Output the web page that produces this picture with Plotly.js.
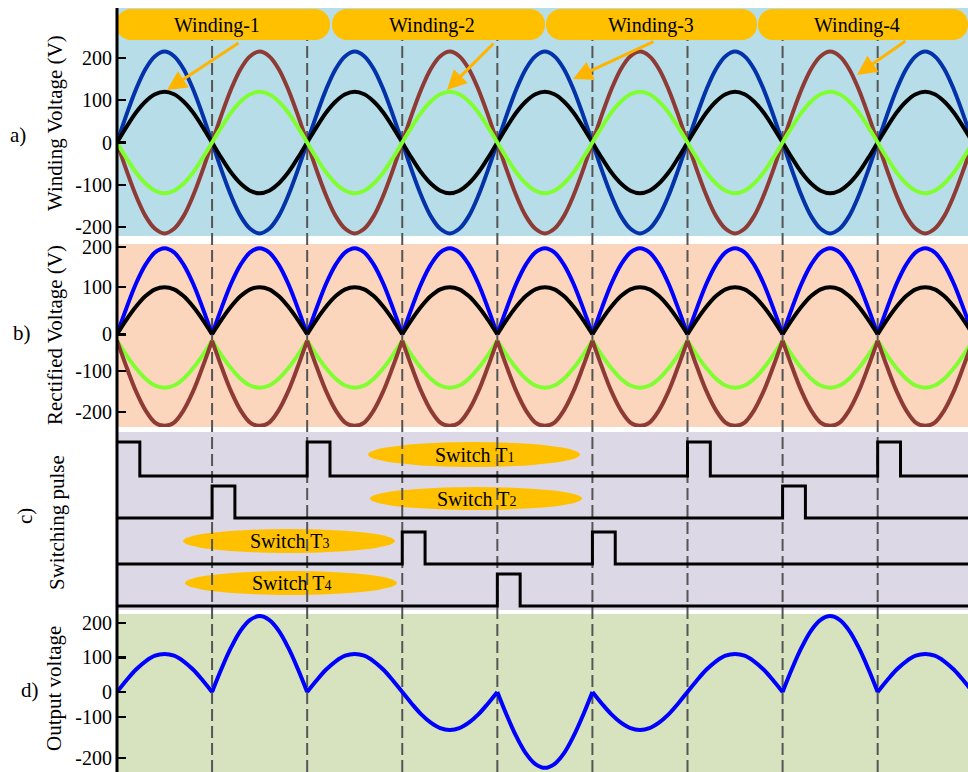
<!DOCTYPE html>
<html><head><meta charset="utf-8">
<script src="https://cdn.plot.ly/plotly-3.0.1.min.js"></script>
<style>html,body{margin:0;padding:0;background:#fff}#chart{width:968px;height:772px}</style>
</head><body><div id="chart"></div>
<script>
// time axis in half-periods
const time = [
0,0.1,0.2,0.3,0.4,0.5,0.6,0.7,0.8,0.9,
1,1.1,1.2,1.3,1.4,1.5,1.6,1.7,1.8,1.9,
2,2.1,2.2,2.3,2.4,2.5,2.6,2.7,2.8,2.9,
3,3.1,3.2,3.3,3.4,3.5,3.6,3.7,3.8,3.9,
4,4.1,4.2,4.3,4.4,4.5,4.6,4.7,4.8,4.9,
5,5.1,5.2,5.3,5.4,5.5,5.6,5.7,5.8,5.9,
6,6.1,6.2,6.3,6.4,6.5,6.6,6.7,6.8,6.9,
7,7.1,7.2,7.3,7.4,7.5,7.6,7.7,7.8,7.9,
8,8.1,8.2,8.3,8.4,8.5,8.6,8.7,8.8,8.9,
9];

// a) winding voltages
const winding1 = [ // black
0,37,71,97,114,120,114,97,71,37,
0,-37,-71,-97,-114,-120,-114,-97,-71,-37,
0,37,71,97,114,120,114,97,71,37,
0,-37,-71,-97,-114,-120,-114,-97,-71,-37,
0,37,71,97,114,120,114,97,71,37,
0,-37,-71,-97,-114,-120,-114,-97,-71,-37,
0,37,71,97,114,120,114,97,71,37,
0,-37,-71,-97,-114,-120,-114,-97,-71,-37,
0,37,71,97,114,120,114,97,71,37,
0];
const winding2 = [ // green
0,-37,-71,-97,-114,-120,-114,-97,-71,-37,
0,37,71,97,114,120,114,97,71,37,
0,-37,-71,-97,-114,-120,-114,-97,-71,-37,
0,37,71,97,114,120,114,97,71,37,
0,-37,-71,-97,-114,-120,-114,-97,-71,-37,
0,37,71,97,114,120,114,97,71,37,
0,-37,-71,-97,-114,-120,-114,-97,-71,-37,
0,37,71,97,114,120,114,97,71,37,
0,-37,-71,-97,-114,-120,-114,-97,-71,-37,
0];
const winding3 = [ // blue
0,66,126,174,204,215,204,174,126,66,
0,-66,-126,-174,-204,-215,-204,-174,-126,-66,
0,66,126,174,204,215,204,174,126,66,
0,-66,-126,-174,-204,-215,-204,-174,-126,-66,
0,66,126,174,204,215,204,174,126,66,
0,-66,-126,-174,-204,-215,-204,-174,-126,-66,
0,66,126,174,204,215,204,174,126,66,
0,-66,-126,-174,-204,-215,-204,-174,-126,-66,
0,66,126,174,204,215,204,174,126,66,
0];
const winding4 = [ // brown
0,-66,-126,-174,-204,-215,-204,-174,-126,-66,
0,66,126,174,204,215,204,174,126,66,
0,-66,-126,-174,-204,-215,-204,-174,-126,-66,
0,66,126,174,204,215,204,174,126,66,
0,-66,-126,-174,-204,-215,-204,-174,-126,-66,
0,66,126,174,204,215,204,174,126,66,
0,-66,-126,-174,-204,-215,-204,-174,-126,-66,
0,66,126,174,204,215,204,174,126,66,
0,-66,-126,-174,-204,-215,-204,-174,-126,-66,
0];

// b) rectified voltages
const rectBlue = [
0,63,121,166,195,205,195,166,121,63,
0,63,121,166,195,205,195,166,121,63,
0,63,121,166,195,205,195,166,121,63,
0,63,121,166,195,205,195,166,121,63,
0,63,121,166,195,205,195,166,121,63,
0,63,121,166,195,205,195,166,121,63,
0,63,121,166,195,205,195,166,121,63,
0,63,121,166,195,205,195,166,121,63,
0,63,121,166,195,205,195,166,121,63,
0];
const rectBlack = [
0,35,66,91,107,112,107,91,66,35,
0,35,66,91,107,112,107,91,66,35,
0,35,66,91,107,112,107,91,66,35,
0,35,66,91,107,112,107,91,66,35,
0,35,66,91,107,112,107,91,66,35,
0,35,66,91,107,112,107,91,66,35,
0,35,66,91,107,112,107,91,66,35,
0,35,66,91,107,112,107,91,66,35,
0,35,66,91,107,112,107,91,66,35,
0];
const rectGreen = [
-15,-50,-81,-106,-122,-127,-122,-106,-81,-50,
-15,-50,-81,-106,-122,-127,-122,-106,-81,-50,
-15,-50,-81,-106,-122,-127,-122,-106,-81,-50,
-15,-50,-81,-106,-122,-127,-122,-106,-81,-50,
-15,-50,-81,-106,-122,-127,-122,-106,-81,-50,
-15,-50,-81,-106,-122,-127,-122,-106,-81,-50,
-15,-50,-81,-106,-122,-127,-122,-106,-81,-50,
-15,-50,-81,-106,-122,-127,-122,-106,-81,-50,
-15,-50,-81,-106,-122,-127,-122,-106,-81,-50,
-15];
const rectBrown = [
-15,-78,-136,-181,-210,-218,-210,-181,-136,-78,
-15,-78,-136,-181,-210,-218,-210,-181,-136,-78,
-15,-78,-136,-181,-210,-218,-210,-181,-136,-78,
-15,-78,-136,-181,-210,-218,-210,-181,-136,-78,
-15,-78,-136,-181,-210,-218,-210,-181,-136,-78,
-15,-78,-136,-181,-210,-218,-210,-181,-136,-78,
-15,-78,-136,-181,-210,-218,-210,-181,-136,-78,
-15,-78,-136,-181,-210,-218,-210,-181,-136,-78,
-15,-78,-136,-181,-210,-218,-210,-181,-136,-78,
-15];

// c) switching pulses (step edges in half-periods, level 0/1)
const pulseT1x = [0, 0.24, 2, 2.24, 6, 6.24, 8, 8.24, 8.95];
const pulseT1y = [1, 0, 1, 0, 1, 0, 1, 0, 0];
const pulseT2x = [0, 1, 1.24, 7, 7.24, 8.95];
const pulseT2y = [0, 1, 0, 1, 0, 0];
const pulseT3x = [0, 3, 3.24, 5, 5.24, 8.95];
const pulseT3y = [0, 1, 0, 1, 0, 0];
const pulseT4x = [0, 4, 4.24, 8.95];
const pulseT4y = [0, 1, 0, 0];

// d) output voltage
const outputV = [
0,34,65,89,105,110,105,89,65,34,
0,68,129,178,209,220,209,178,129,68,
0,34,65,89,105,110,105,89,65,34,
0,-34,-65,-89,-105,-110,-105,-89,-65,-34,
0,-68,-129,-178,-209,-220,-209,-178,-129,-68,
0,-34,-65,-89,-105,-110,-105,-89,-65,-34,
0,34,65,89,105,110,105,89,65,34,
0,68,129,178,209,220,209,178,129,68,
0,34,65,89,105,110,105,89,65,34,
0];

// labels
const windingLabels = ['Winding-1','Winding-2','Winding-3','Winding-4'];
const switchDigits = ['1','2','3','4'];
const panelTitles = ['Winding Voltage (V)','Rectified Voltage (V)','Switching pulse','Output voltage'];
const panelLetters = ['a)','b)','c)','d)'];
const tickTextA = ['-200','-100','0','100','200'];
const tickValsA = [-200,-100,0,100,200];
const tickTextB = ['200','100','0','-100','-200'];
const tickValsB = [208,113,0,-87,-185];
const tickTextD = ['200','100','0','-100','-200'];
const tickValsD = [200,100,0,-72,-191];
const boundaries = [1,2,3,4,5,6,7,8];
const rectCusps = [1,2,3,4,5,6,7,8];
const outputCusps = [1,2,4,5,7,8];

// ---------- geometry helpers ----------
const W = 968, H = 772, L = 117, TOP = 8;
const px = x => (x - L) / (W - L);
const py = y => (H - y) / (H - TOP);
const FONT = '"Liberation Serif", "Times New Roman", serif';
const ORANGE = '#FFC000';

function curve(x, y, color, axis) {
  return {x: x, y: y, type: 'scatter', mode: 'lines', yaxis: axis,
          line: {color: color, width: 4, shape: 'spline', smoothing: 1}, hoverinfo: 'skip', showlegend: false};
}
// split a series at its cusp points so the spline keeps the sharp corners
function pieces(x, y, color, axis, cusps) {
  const idx = [0].concat(cusps.map(c => x.indexOf(c)), [x.length - 1]);
  const out = [];
  for (let i = 0; i < idx.length - 1; i++) {
    out.push(curve(x.slice(idx[i], idx[i + 1] + 1), y.slice(idx[i], idx[i + 1] + 1), color, axis));
  }
  return out;
}
function step(x, y, axis) {
  return {x: x, y: y, type: 'scatter', mode: 'lines', yaxis: axis,
          line: {color: '#000', width: 3, shape: 'hv'}, hoverinfo: 'skip', showlegend: false};
}

const traces = [].concat(
  [curve(time, winding3, '#0432A8', 'y'),
   curve(time, winding4, '#8E3B36', 'y'),
   curve(time, winding1, '#000000', 'y'),
   curve(time, winding2, '#80FF30', 'y')],
  pieces(time, rectBlue, '#0000FF', 'y2', rectCusps),
  pieces(time, rectBlack, '#000000', 'y2', rectCusps),
  pieces(time, rectGreen, '#80FF30', 'y2', rectCusps),
  pieces(time, rectBrown, '#8E3B36', 'y2', rectCusps),
  [step(pulseT1x, pulseT1y, 'y3'),
   step(pulseT2x, pulseT2y, 'y4'),
   step(pulseT3x, pulseT3y, 'y5'),
   step(pulseT4x, pulseT4y, 'y6')],
  pieces(time, outputV, '#0000FF', 'y7', outputCusps)
);

function yax(dom, range, tv, tt) {
  const o = {domain: dom, range: range, anchor: 'x', showgrid: false, zeroline: false,
    showline: false, fixedrange: true};
  if (tv) {
    Object.assign(o, {tickmode: 'array', tickvals: tv, ticktext: tt, ticks: 'inside',
      ticklen: 9, tickwidth: 2.5, tickcolor: '#000', ticklabelstandoff: 4,
      tickfont: {family: FONT, size: 20, color: '#000'}});
  } else {
    Object.assign(o, {visible: false});
  }
  return o;
}
function rowDom(low, high) { // pixel rows for 0 and 1 levels with range [-0.1,1.1]
  const u = low - high;
  return [py(low + 0.1 * u), py(high - 0.1 * u)];
}

// rounded box path in paper coords (cubic corners)
function pill(x0, x1, y0, y1, r) {
  const P = (x, y) => px(x) + ',' + py(y);
  const k = 0.5523 * r;
  return 'M' + P(x0 + r, y0) + ' L' + P(x1 - r, y0) +
    ' C' + P(x1 - r + k, y0) + ' ' + P(x1, y0 + r - k) + ' ' + P(x1, y0 + r) +
    ' L' + P(x1, y1 - r) +
    ' C' + P(x1, y1 - r + k) + ' ' + P(x1 - r + k, y1) + ' ' + P(x1 - r, y1) +
    ' L' + P(x0 + r, y1) +
    ' C' + P(x0 + r - k, y1) + ' ' + P(x0, y1 - r + k) + ' ' + P(x0, y1 - r) +
    ' L' + P(x0, y0 + r) +
    ' C' + P(x0, y0 + r - k) + ' ' + P(x0 + r - k, y0) + ' ' + P(x0 + r, y0) + ' Z';
}

const shapes = [];
const bgs = [[8, 236, '#B7DDE8'], [244, 427, '#FBD5BC'], [432, 610, '#DDD8E6'], [614, 772, '#D7E3BF']];
bgs.forEach(b => shapes.push({type: 'rect', xref: 'paper', yref: 'paper', x0: 0, x1: 1,
  y0: py(b[1]), y1: py(b[0]), fillcolor: b[2], line: {width: 0}, layer: 'below'}));
const ells = [[368, 580, 442, 467], [370, 582, 487, 510], [183, 395, 529, 553], [185, 397, 571, 595]];
ells.forEach(e => shapes.push({type: 'circle', xref: 'paper', yref: 'paper', x0: px(e[0]), x1: px(e[1]),
  y0: py(e[3]), y1: py(e[2]), fillcolor: ORANGE, line: {width: 0}, layer: 'below'}));
boundaries.forEach(k => shapes.push({type: 'line', xref: 'x', yref: 'paper', x0: k, x1: k,
  y0: 0, y1: py(40), line: {color: '#555555', width: 2, dash: '12px,5px'}, layer: 'below'}));
const boxes = [[116, 330], [332, 545], [546, 757], [758, 968]];
boxes.forEach(b => shapes.push({type: 'path', xref: 'paper', yref: 'paper', path: pill(b[0], b[1], 9, 40, 15),
  fillcolor: ORANGE, line: {width: 0}, layer: 'above'}));
shapes.push({type: 'line', xref: 'paper', yref: 'paper', x0: 0, x1: 0, y0: 0, y1: py(8),
  line: {color: '#000', width: 3}, layer: 'above'});

const annotations = [];
const txt = (x, y, t, size, angle) => ({xref: 'paper', yref: 'paper', x: px(x), y: py(y), text: t,
  showarrow: false, xanchor: 'center', yanchor: 'middle', textangle: angle || 0,
  font: {family: FONT, size: size, color: '#000'}});
// winding labels
[[217, 26], [432, 26], [651, 26], [857, 26]].forEach((p, i) => annotations.push(txt(p[0], p[1], windingLabels[i], 20)));
// switch labels
[[474, 455], [476, 499], [289, 541], [291, 583]].forEach((p, i) => annotations.push(
  txt(p[0], p[1], 'Switch T<span style="font-size:14px">' + switchDigits[i] + '</span>', 20)));
// y titles
[[55, 123], [55, 335], [57, 523], [54, 689]].forEach((p, i) => annotations.push(txt(p[0], p[1], panelTitles[i], 21, -90)));
// panel letters
[[18, 135], [22, 333], [25, 516], [30, 690]].forEach((p, i) => annotations.push(txt(p[0], p[1], panelLetters[i], 21, i === 2 ? -90 : 0)));
// arrows
[[167, 90, 73, -48], [447, 90, 48, -48], [573, 79, 82, -38], [857, 75, 50, -35]].forEach(a => annotations.push({
  xref: 'paper', yref: 'paper', x: px(a[0]), y: py(a[1]), ax: a[2], ay: a[3], text: '',
  showarrow: true, arrowhead: 2, arrowsize: 1.3, arrowwidth: 3, arrowcolor: '#FFB400', standoff: 0}));

const layout = {
  width: W, height: H,
  margin: {l: L, r: 0, t: TOP, b: 0, pad: 0},
  paper_bgcolor: '#fff', plot_bgcolor: 'rgba(0,0,0,0)',
  showlegend: false,
  font: {family: FONT, color: '#000'},
  xaxis: {domain: [0, 1], range: [0, 8.95], anchor: 'y7', visible: false, fixedrange: true},
  yaxis: yax([py(236), 1], [-221, 318], tickValsA, tickTextA),
  yaxis2: yax([py(427), py(244)], [-220.7, 215], tickValsB, tickTextB),
  yaxis3: yax(rowDom(476, 442), [-0.1, 1.1]),
  yaxis4: yax(rowDom(518, 486), [-0.1, 1.1]),
  yaxis5: yax(rowDom(564, 532), [-0.1, 1.1]),
  yaxis6: yax(rowDom(606, 574), [-0.1, 1.1]),
  yaxis7: yax([0, py(614)], [-232, 226], tickValsD, tickTextD),
  shapes: shapes,
  annotations: annotations
};

Plotly.newPlot('chart', traces, layout, {displayModeBar: false, staticPlot: true});
</script>
</body></html>
